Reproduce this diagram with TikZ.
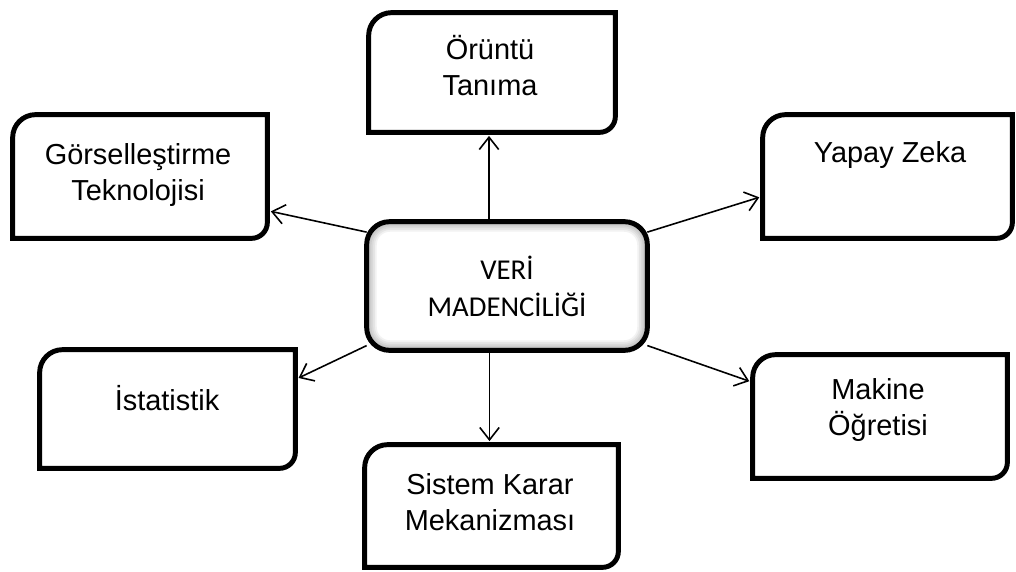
\documentclass[tikz,border=0pt]{standalone}
\usepackage{fontspec}
\setmainfont{Liberation Sans}
\newfontfamily\calibri{Carlito}
\usetikzlibrary{arrows.meta}

\newlength\px
\setlength\px{0.5669pt}
\newlength\rtl
\setlength\rtl{13pt}
\newlength\rbr
\setlength\rbr{9pt}

% frame with two round corners (top left, bottom right)
\newcommand{\diagframe}[1]{%
  \draw[frame] ([yshift=-\rtl]#1.north west) arc[start angle=180, end angle=90, radius=\rtl]
    -- (#1.north east) -- ([yshift=\rbr]#1.south east)
    arc[start angle=0, end angle=-90, radius=\rbr] -- (#1.south west) -- cycle;}

\begin{document}
\begin{tikzpicture}[x=\px, y=\px,
  box/.style={inner sep=0pt},
  frame/.style={line width=2.8pt},
  lbl/.style={align=center, font=\fontsize{16.4}{20.4}\selectfont},
  core/.style={minimum width=280\px, minimum height=128\px, rounded corners=13pt, fill=white,
    align=center, font=\calibri\fontsize{16.3}{21}\selectfont,
    path picture={\foreach \i [evaluate=\i as \c using int(5*\i), evaluate=\i as \w using 13-2*\i] in {1,...,6}
      \draw[line width=\w pt, black!\c, rounded corners=13pt]
        (path picture bounding box.south west) rectangle (path picture bounding box.north east);}},
  link/.style={line width=0.9pt, -{Straight Barb[length=7pt, width=11pt]}, shorten >=2pt}]

\useasboundingbox (0,0) rectangle (1016,571);

\foreach \n/\x/\y/\w/\h in {oruntu/492/498.5/246/119, gorsel/140/394.5/254/123,
    yapay/887.5/394.5/249/123, istat/167.5/162/255/118,
    sistem/491.5/65/253/122, makine/880/154.5/254/123}
  \node[box, minimum width=\w\px, minimum height=\h\px] (\n) at (\x,\y) {};

\foreach \n in {oruntu, gorsel, yapay, istat, sistem, makine}
  \diagframe{\n};

\node[lbl] (oruntuT) at (490,505) {Örüntü\\Tanıma};
\node[lbl] (gorselT) at (138,396) {Görselleştirme\\Teknolojisi};
\node[lbl] (yapayT) at (890,416) {Yapay Zeka};
\node[lbl] (istatT) at (167,173) {İstatistik};
\node[lbl] (sistemT) at (490,68.5) {Sistem Karar\\Mekanizması};
\node[lbl] (makineT) at (878,161) {Makine\\Öğretisi};

\node[core] (veri) at (507,285) {VERİ\\MADENCİLİĞİ};
\draw[line width=2.8pt, rounded corners=13pt] (veri.south west) rectangle (veri.north east);

\draw[link] ([xshift=-3\px]oruntu.south |- veri.north) -- ([xshift=-3\px]oruntu.south);
\draw[link] (veri.159) -- (gorsel.-15);
\draw[link] (veri.21) -- (yapay.-171);
\draw[link] (veri.-157) -- (istat.13);
\draw[link] (veri.-23) -- (makine.165);
\draw[link] ([xshift=-2\px]sistem.north |- veri.south) -- ([xshift=-2\px]sistem.north);

\end{tikzpicture}
\end{document}
